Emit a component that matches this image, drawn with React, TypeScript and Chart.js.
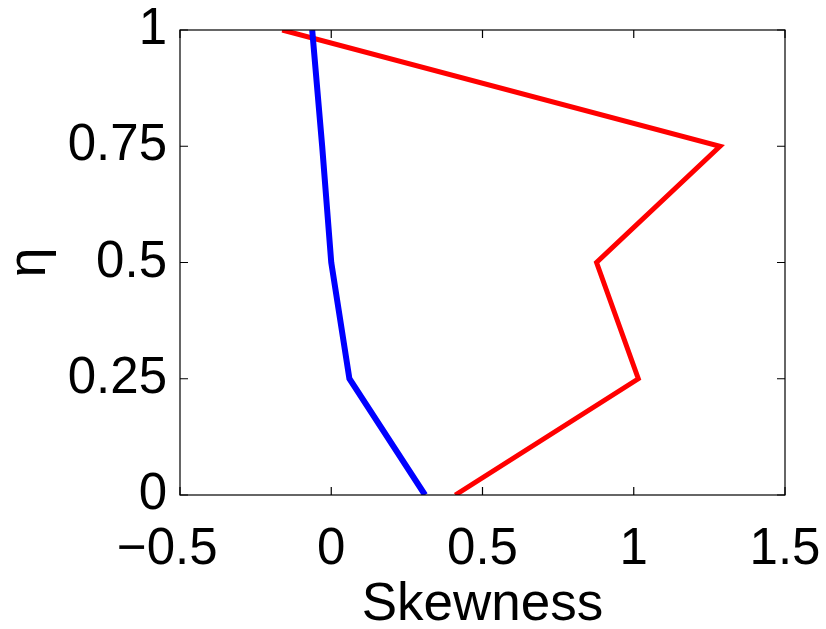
import React, { useEffect, useRef } from "react";
import { Chart, registerables } from "chart.js";

Chart.register(...registerables);

const etaLevels = [0, 0.25, 0.5, 0.75, 1];
const blueSkewness = [0.31, 0.06, 0.0, -0.03, -0.063];
const redSkewness = [0.41, 1.015, 0.877, 1.285, -0.162];
const xTicks = [-0.5, 0, 0.5, 1, 1.5];
const yTicks = [0, 0.25, 0.5, 0.75, 1];

const FONT = "'Liberation Sans', Arial, Helvetica, sans-serif";

const fmt = (v: number) => (v < 0 ? "\u2212" + String(Math.abs(v)) : String(v));

const framePlugin = {
  id: "frame",
  afterDatasetsDraw(chart: any) {
    const { ctx, chartArea: a, scales } = chart;
    ctx.save();
    ctx.strokeStyle = "#000";
    ctx.lineWidth = 1.2;
    ctx.strokeRect(a.left, a.top, a.right - a.left, a.bottom - a.top);
    const tl = 8;
    ctx.beginPath();
    xTicks.forEach((v) => {
      const px = scales.x.getPixelForValue(v);
      ctx.moveTo(px, a.bottom);
      ctx.lineTo(px, a.bottom - tl);
      ctx.moveTo(px, a.top);
      ctx.lineTo(px, a.top + tl);
    });
    yTicks.forEach((v) => {
      const py = scales.y.getPixelForValue(v);
      ctx.moveTo(a.left, py);
      ctx.lineTo(a.left + tl, py);
      ctx.moveTo(a.right, py);
      ctx.lineTo(a.right - tl, py);
    });
    ctx.stroke();
    ctx.restore();
  },
};

export default function App() {
  const ref = useRef<HTMLCanvasElement | null>(null);
  useEffect(() => {
    if (!ref.current) return;
    const chart = new Chart(ref.current, {
      type: "line",
      data: {
        datasets: [
          {
            data: etaLevels.map((y, i) => ({ x: blueSkewness[i], y })),
            borderColor: "#0000ff",
            borderWidth: 6,
            pointRadius: 0,
            fill: false,
            tension: 0,
          },
          {
            data: etaLevels.map((y, i) => ({ x: redSkewness[i], y })),
            borderColor: "#ff0000",
            borderWidth: 5,
            pointRadius: 0,
            fill: false,
            tension: 0,
          },
        ],
      },
      options: {
        animation: false,
        responsive: false,
        maintainAspectRatio: false,
        layout: { padding: { top: 30, right: 41, left: 0, bottom: 0 } },
        plugins: { legend: { display: false }, tooltip: { enabled: false } },
        scales: {
          x: {
            type: "linear",
            min: -0.5,
            max: 1.5,
            afterBuildTicks: (s: any) => {
              s.ticks = xTicks.map((v) => ({ value: v }));
            },
            afterFit: (s: any) => {
              s.height = 134;
              s.paddingLeft = 0;
              s.paddingRight = 0;
            },
            grid: { display: false, drawTicks: false },
            border: { display: false },
            ticks: {
              color: "#000",
              font: { family: FONT, size: 51 },
              padding: 24,
              maxRotation: 0,
              callback: (v: any) => (Number(v) < 0 ? fmt(Number(v)) + "\u2002" : fmt(Number(v))),
            },
            title: {
              display: true,
              text: "Skewness",
              color: "#000",
              font: { family: FONT, size: 53, lineHeight: 0.9 },
              padding: { top: 0, bottom: 0 },
            },
          },
          y: {
            type: "linear",
            min: 0,
            max: 1,
            afterBuildTicks: (s: any) => {
              s.ticks = yTicks.map((v) => ({ value: v }));
            },
            afterFit: (s: any) => {
              s.width = 180;
              s.paddingTop = 0;
              s.paddingBottom = 0;
            },
            grid: { display: false, drawTicks: false },
            border: { display: false },
            ticks: {
              color: "#000",
              font: { family: FONT, size: 51 },
              padding: 13,
              callback: (v: any) => fmt(Number(v)),
            },
            title: {
              display: true,
              text: "\u03b7",
              color: "#000",
              font: { family: FONT, size: 54, lineHeight: 1.1 },
              padding: { top: 0, bottom: 0 },
            },
          },
        },
      },
      plugins: [framePlugin],
    } as any);
    return () => chart.destroy();
  }, []);
  return (
    <div style={{ position: "absolute", left: 0, top: 0, width: 826, height: 629, background: "#fff" }}>
      <canvas ref={ref} width={826} height={629} style={{ width: 826, height: 629 }} />
    </div>
  );
}
